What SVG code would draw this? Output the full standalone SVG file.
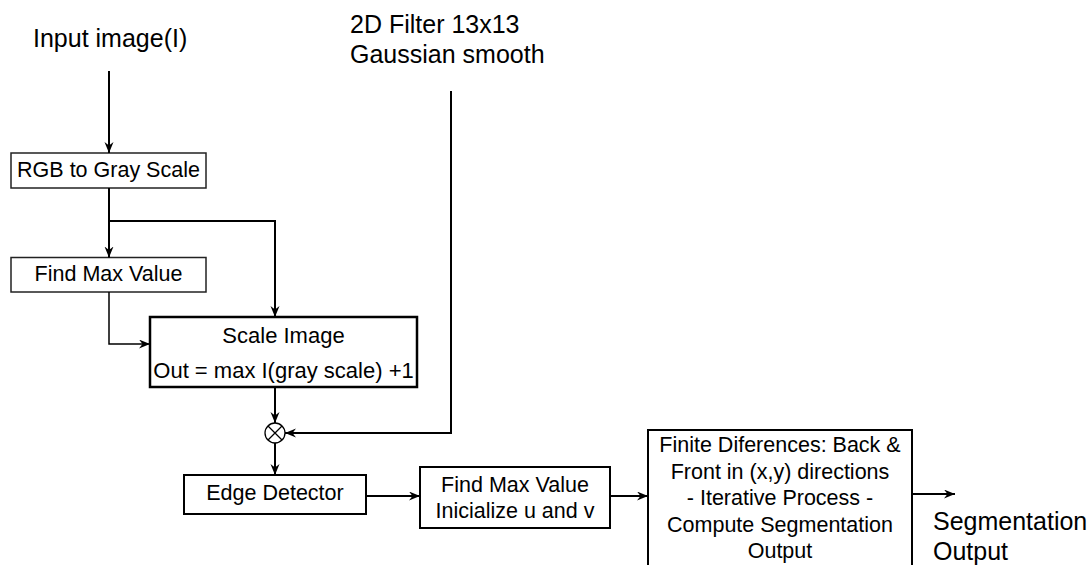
<svg xmlns="http://www.w3.org/2000/svg" width="1091" height="565" viewBox="0 0 1091 565">
<defs>
<marker id="arr" markerUnits="userSpaceOnUse" markerWidth="12" markerHeight="10" refX="11" refY="4.5" orient="auto">
<path d="M0,0 L11,4.5 L0,9 L3.5,4.5 z" fill="#000"/>
</marker>
<style>
.box{fill:#fff;stroke:#222;stroke-width:1.5}
.thick{stroke-width:2.5;stroke:#000}
.med{stroke-width:2;stroke:#000}
.t{font-family:"Liberation Sans",Arial,sans-serif;font-size:21.5px;fill:#000;text-anchor:middle}
.big{font-family:"Liberation Sans",Arial,sans-serif;font-size:25px;fill:#000}
.c{fill:none;stroke:#000;stroke-width:2}
.c1{fill:none;stroke:#000;stroke-width:1.5}
</style>
</defs>
<rect width="1091" height="565" fill="#fff"/>
<g id="label-input"><text class="big" x="33" y="47">Input image(I)</text></g>
<g id="label-filter"><text class="big" x="350" y="33">2D Filter 13x13</text><text class="big" x="350" y="63">Gaussian smooth</text></g>
<g id="label-output"><text class="big" x="933" y="530">Segmentation</text><text class="big" x="933" y="560">Output</text></g>
<g id="node-rgb"><rect class="box" x="11" y="153" width="195" height="35"/><text class="t" x="108.5" y="177">RGB to Gray Scale</text></g>
<g id="node-findmax"><rect class="box" x="11" y="257.5" width="195" height="34.5"/><text class="t" x="108.5" y="281">Find Max Value</text></g>
<g id="node-scale"><rect class="box thick" x="150" y="317" width="267" height="70"/><text class="t" x="283.5" y="343" style="font-size:22px">Scale Image</text><text class="t" x="283.5" y="378" style="font-size:22px">Out = max I(gray scale) +1</text></g>
<g id="node-mult"><circle cx="275" cy="433" r="10" fill="#fff" stroke="#000" stroke-width="1.3"/><path d="M268,426 L282,440 M282,426 L268,440" stroke="#000" stroke-width="1.3"/></g>
<g id="node-edge"><rect class="box med" x="184" y="475" width="182" height="39"/><text class="t" x="275" y="500">Edge Detector</text></g>
<g id="node-findmax2"><rect class="box med" x="420" y="467" width="190" height="61"/><text class="t" x="515" y="492">Find Max Value</text><text class="t" x="515" y="518">Inicialize u and v</text></g>
<g id="node-finite"><rect class="box med" x="648" y="430" width="264" height="150"/>
<text class="t" x="780" y="452">Finite Diferences: Back &amp;</text>
<text class="t" x="780" y="479">Front in (x,y) directions</text>
<text class="t" x="780" y="505">- Iterative Process -</text>
<text class="t" x="780" y="532">Compute Segmentation</text>
<text class="t" x="780" y="558">Output</text></g>
<g id="connectors">
<path class="c" d="M109,71 V153" marker-end="url(#arr)"/>
<path class="c" d="M109,188 V257.5" marker-end="url(#arr)"/>
<path class="c" d="M109,221 H275 V317" marker-end="url(#arr)"/>
<path class="c1" d="M109,292 V344 H150" marker-end="url(#arr)"/>
<path class="c" d="M275,387 V423" marker-end="url(#arr)"/>
<path class="c" d="M451,91 V433 H285" marker-end="url(#arr)"/>
<path class="c" d="M275,443 V475" marker-end="url(#arr)"/>
<path class="c" d="M366,496 H420" marker-end="url(#arr)"/>
<path class="c" d="M610,496 H648" marker-end="url(#arr)"/>
<path class="c" d="M912,494 H955" marker-end="url(#arr)"/>
</g>
</svg>
